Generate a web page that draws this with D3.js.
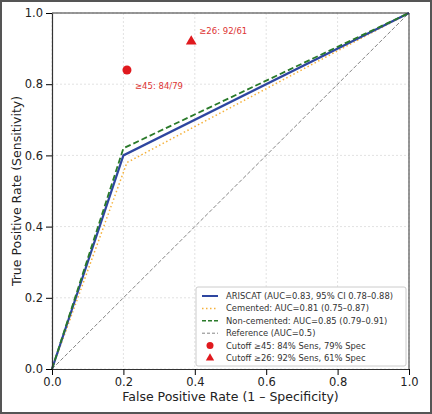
<!DOCTYPE html><html><head><meta charset="utf-8"><script src="https://cdn.jsdelivr.net/npm/d3@7"></script>
<style>body{margin:0;background:#fff}text{font-family:"DejaVu Sans",sans-serif}</style></head><body><svg id="c" width="432" height="414"></svg>
<script>
const ticks=[0,0.2,0.4,0.6,0.8,1.0];
const ariscat=[[0,0],[0.2,0.6],[1,1]];
const cemented=[[0,0],[0.21,0.58],[1,1]];
const noncemented=[[0,0],[0.2,0.62],[1,1]];
const reference=[[0,0],[1,1]];
const cut45=[0.21,0.84], cut26=[0.39,0.92];
const legendLabels=["ARISCAT (AUC=0.83, 95% CI 0.78–0.88)","Cemented: AUC=0.81 (0.75–0.87)","Non-cemented: AUC=0.85 (0.79–0.91)","Reference (AUC=0.5)","Cutoff ≥45: 84% Sens, 79% Spec","Cutoff ≥26: 92% Sens, 61% Spec"];
const svg=d3.select("#c");
svg.append("rect").attr("x",1).attr("y",1).attr("width",430).attr("height",412).attr("fill","#fff").attr("stroke","#555").attr("stroke-width",2);
const L=52,R=409,T=13,B=369;
const x=d3.scaleLinear([0,1],[L,R]), y=d3.scaleLinear([0,1],[B,T]);
const g=svg.append("g");
ticks.forEach(t=>{
 g.append("line").attr("x1",x(t)).attr("x2",x(t)).attr("y1",T).attr("y2",B).attr("stroke","#e2e2e2").attr("stroke-dasharray","2,2");
 g.append("line").attr("y1",y(t)).attr("y2",y(t)).attr("x1",L).attr("x2",R).attr("stroke","#e2e2e2").attr("stroke-dasharray","2,2");
});
const line=d3.line().x(d=>x(d[0])).y(d=>y(d[1]));
g.append("path").attr("d",line(reference)).attr("fill","none").attr("stroke","#777").attr("stroke-width",0.9).attr("stroke-dasharray","4,2");
g.append("path").attr("d",line(cemented)).attr("fill","none").attr("stroke","#f5b13a").attr("stroke-width",1.5).attr("stroke-dasharray","1.5,2.5");
g.append("path").attr("d",line(ariscat)).attr("fill","none").attr("stroke","#2e46a0").attr("stroke-width",2.2);
g.append("path").attr("d",line(noncemented)).attr("fill","none").attr("stroke","#2a7a2a").attr("stroke-width",1.8).attr("stroke-dasharray","6,3");
g.append("circle").attr("cx",x(cut45[0])).attr("cy",y(cut45[1])).attr("r",4.5).attr("fill","#e0191e");
g.append("path").attr("d",d3.symbol(d3.symbolTriangle,50)()).attr("transform",`translate(${x(cut26[0])},${y(cut26[1])})`).attr("fill","#e0191e");
g.append("text").attr("x",x(cut45[0])+8).attr("y",y(cut45[1])+19).attr("font-size",8.5).attr("fill","#d33").text("≥45: 84/79");
g.append("text").attr("x",x(cut26[0])+8).attr("y",y(cut26[1])-7).attr("font-size",8.5).attr("fill","#d33").text("≥26: 92/61");
g.append("g").attr("transform",`translate(0,${B})`).call(d3.axisBottom(x).tickValues(ticks).tickFormat(d3.format(".1f")).tickSizeOuter(0)).call(a=>a.selectAll("text").attr("font-size",11.5).attr("fill","#222"));
g.append("g").attr("transform",`translate(${L},0)`).call(d3.axisLeft(y).tickValues(ticks).tickFormat(d3.format(".1f")).tickSizeOuter(0)).call(a=>a.selectAll("text").attr("font-size",11.5).attr("fill","#222"));
svg.selectAll(".domain").attr("stroke","#333").attr("stroke-width",1.2);
g.append("line").attr("x1",R).attr("x2",R).attr("y1",T).attr("y2",B).attr("stroke","#333");
g.append("line").attr("x1",L).attr("x2",R).attr("y1",T).attr("y2",T).attr("stroke","#333");
svg.append("text").attr("x",(L+R)/2).attr("y",401).attr("text-anchor","middle").attr("font-size",12.5).attr("fill","#222").text("False Positive Rate (1 – Specificity)");
svg.append("text").attr("transform",`translate(21,${(T+B)/2}) rotate(-90)`).attr("text-anchor","middle").attr("font-size",12.5).attr("fill","#222").text("True Positive Rate (Sensitivity)");
const lg=svg.append("g").attr("transform","translate(196,287)");
lg.append("rect").attr("width",210).attr("height",79).attr("rx",2).attr("fill","#fff").attr("stroke","#ccc");
const st=[{c:"#2e46a0",w:2,d:null},{c:"#f5b13a",w:1.5,d:"1.5,2.5"},{c:"#2a7a2a",w:1.5,d:"4,2"},{c:"#777",w:0.9,d:"3,2"}];
legendLabels.forEach((t,i)=>{
 const yy=9+i*12.4;
 if(i<4) lg.append("line").attr("x1",6).attr("x2",22).attr("y1",yy).attr("y2",yy).attr("stroke",st[i].c).attr("stroke-width",st[i].w).attr("stroke-dasharray",st[i].d);
 else if(i==4) lg.append("circle").attr("cx",14).attr("cy",yy).attr("r",3.5).attr("fill","#e0191e");
 else lg.append("path").attr("d",d3.symbol(d3.symbolTriangle,30)()).attr("transform",`translate(14,${yy})`).attr("fill","#e0191e");
 lg.append("text").attr("x",30).attr("y",yy+3).attr("font-size",8.4).attr("fill","#333").text(t);
});
</script></body></html>
